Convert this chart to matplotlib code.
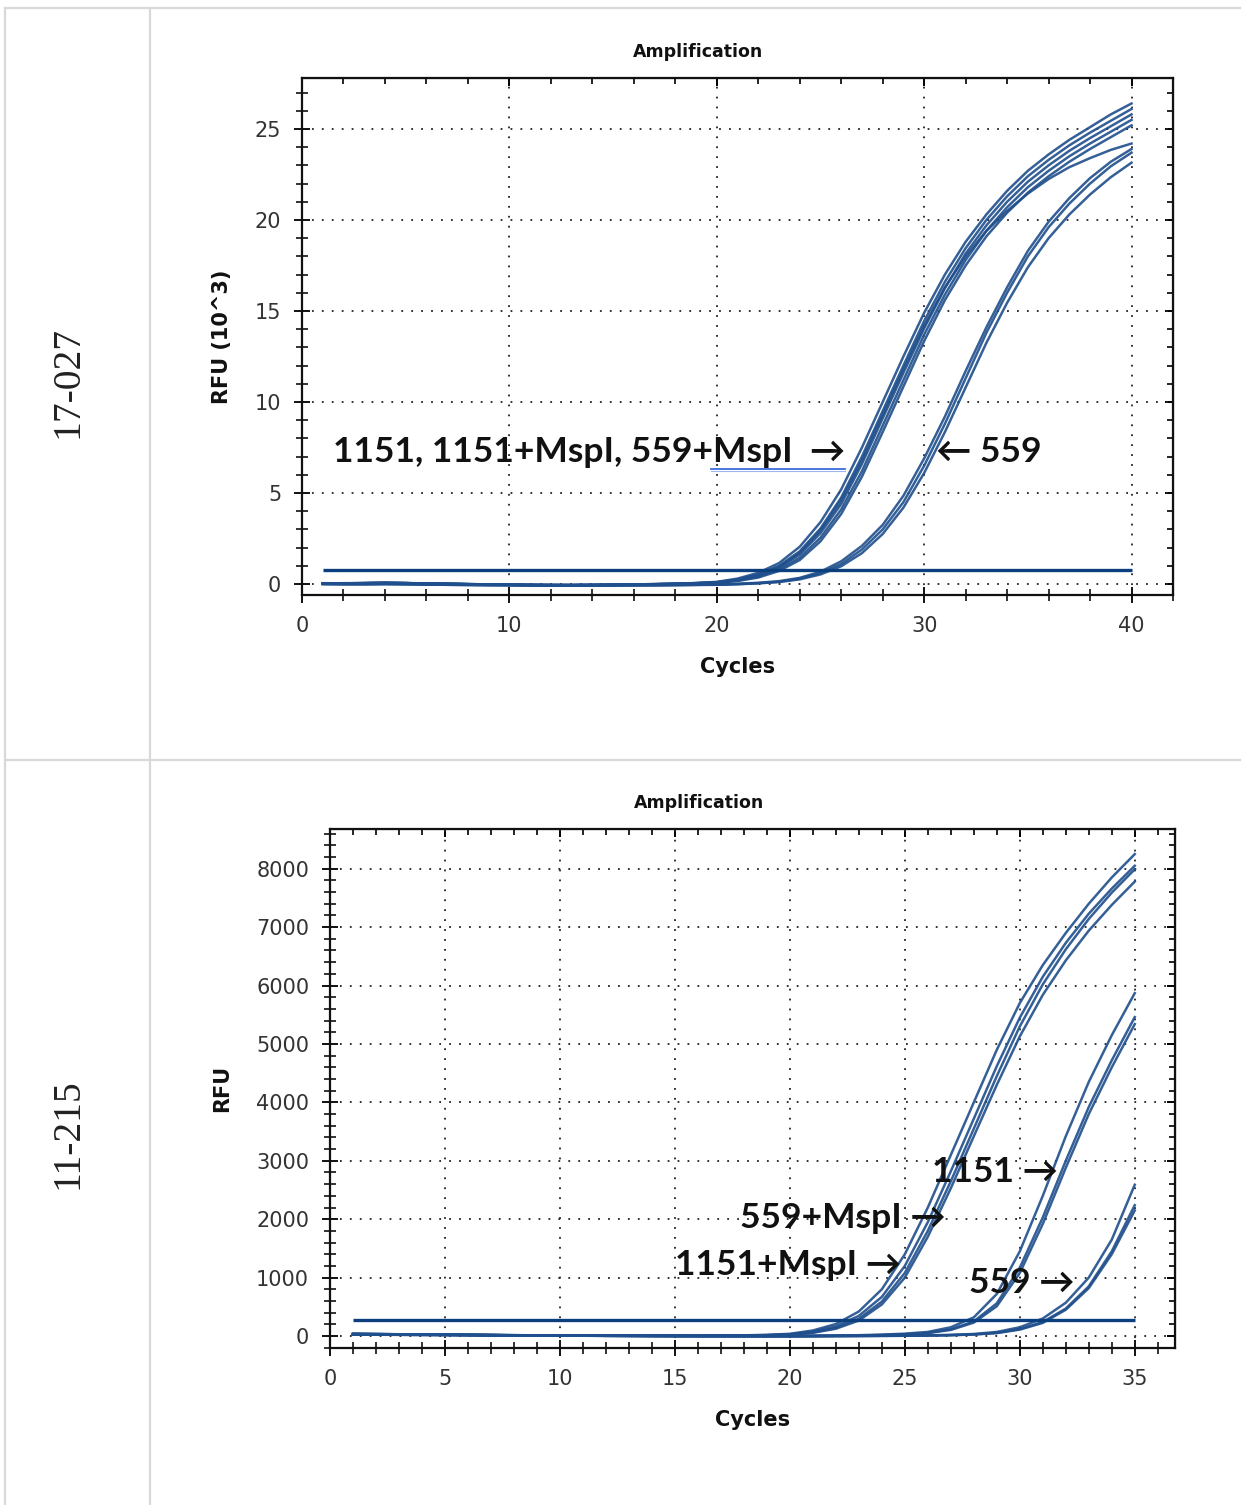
import matplotlib
matplotlib.use("Agg")
import matplotlib.pyplot as plt
from matplotlib.lines import Line2D
from matplotlib.ticker import MultipleLocator

# ---------------- data: sample 17-027 (RFU x 10^3) ----------------
cycles_a = list(range(1, 41))
threshold_a = 0.8
# 1151, 1151+MspI, 559+MspI (early group)
a_early_1 = [0.05,0.04,0.06,0.08,0.05,0.03,0.02,0.00,-0.02,-0.03,-0.04,-0.05,-0.05,-0.04,-0.03,-0.02,0.00,0.02,0.06,0.12,0.30,0.62,1.15,2.05,3.40,5.20,7.50,10.00,12.50,14.90,17.00,18.80,20.30,21.60,22.70,23.60,24.40,25.10,25.80,26.40]
a_early_2 = [0.04,0.05,0.05,0.07,0.06,0.03,0.01,-0.01,-0.02,-0.04,-0.05,-0.05,-0.06,-0.05,-0.03,-0.02,0.00,0.02,0.05,0.10,0.25,0.52,1.00,1.80,3.05,4.75,7.00,9.50,12.00,14.45,16.60,18.45,20.00,21.30,22.40,23.30,24.10,24.80,25.45,26.10]
a_early_3 = [0.03,0.04,0.05,0.06,0.05,0.04,0.02,0.00,-0.02,-0.03,-0.04,-0.06,-0.05,-0.05,-0.04,-0.02,-0.01,0.01,0.04,0.09,0.22,0.46,0.90,1.62,2.80,4.40,6.60,9.10,11.60,14.05,16.25,18.15,19.70,21.00,22.10,23.00,23.80,24.50,25.15,25.80]
a_early_4 = [0.04,0.03,0.05,0.06,0.05,0.03,0.01,-0.01,-0.03,-0.04,-0.05,-0.05,-0.06,-0.05,-0.04,-0.03,-0.01,0.01,0.03,0.08,0.19,0.40,0.80,1.45,2.55,4.10,6.20,8.70,11.20,13.70,15.90,17.80,19.40,20.70,21.80,22.70,23.50,24.20,24.85,25.50]
a_early_5 = [0.03,0.04,0.04,0.05,0.05,0.03,0.01,-0.01,-0.02,-0.04,-0.05,-0.06,-0.06,-0.05,-0.04,-0.03,-0.01,0.00,0.03,0.07,0.17,0.36,0.72,1.32,2.35,3.85,5.90,8.35,10.85,13.35,15.60,17.50,19.10,20.40,21.50,22.40,23.20,23.90,24.55,25.20]
a_early_6 = [0.04,0.04,0.05,0.06,0.05,0.03,0.02,0.00,-0.02,-0.03,-0.05,-0.05,-0.05,-0.05,-0.04,-0.02,-0.01,0.01,0.05,0.10,0.24,0.50,0.95,1.72,2.95,4.60,6.80,9.30,11.80,14.20,16.30,18.00,19.40,20.50,21.45,22.25,22.90,23.40,23.85,24.20]
# 559 (late group)
a_late_1 = [0.00,-0.01,0.00,0.01,0.00,-0.02,-0.03,-0.04,-0.05,-0.06,-0.07,-0.07,-0.08,-0.08,-0.07,-0.07,-0.06,-0.05,-0.04,-0.02,0.02,0.07,0.16,0.34,0.68,1.25,2.10,3.25,4.85,6.90,9.20,11.70,14.10,16.30,18.30,19.90,21.20,22.30,23.20,23.90]
a_late_2 = [0.01,0.00,-0.01,0.00,-0.01,-0.02,-0.04,-0.05,-0.06,-0.06,-0.07,-0.08,-0.08,-0.08,-0.08,-0.07,-0.06,-0.05,-0.04,-0.03,0.00,0.05,0.13,0.30,0.60,1.10,1.90,3.00,4.50,6.50,8.80,11.30,13.80,16.00,18.00,19.60,20.90,22.00,22.95,23.70]
a_late_3 = [0.00,-0.01,-0.01,0.00,-0.01,-0.03,-0.04,-0.05,-0.06,-0.07,-0.07,-0.08,-0.09,-0.08,-0.08,-0.07,-0.07,-0.06,-0.05,-0.04,-0.01,0.04,0.11,0.26,0.53,0.98,1.70,2.75,4.20,6.10,8.35,10.80,13.25,15.45,17.40,19.00,20.30,21.40,22.35,23.15]
series_a = [a_early_1, a_early_2, a_early_3, a_early_4, a_early_5, a_early_6,
            a_late_1, a_late_2, a_late_3]

# ---------------- data: sample 11-215 (RFU) ----------------
cycles_b = list(range(1, 36))
threshold_b = 270
# 559+MspI, 1151+MspI
b_mspi_1 = [40,35,30,28,25,20,18,15,12,10,8,6,5,4,4,5,7,12,20,38,95,205,420,800,1400,2200,3100,4000,4900,5700,6350,6900,7400,7850,8250]
b_mspi_2 = [38,34,30,27,24,21,17,14,12,9,7,6,5,4,3,4,6,10,16,30,75,165,345,670,1200,1950,2820,3720,4620,5450,6150,6730,7230,7660,8050]
b_mspi_3 = [36,33,29,26,23,20,17,14,11,9,7,6,4,3,3,3,5,8,14,25,62,140,295,590,1080,1800,2650,3550,4450,5300,6020,6620,7140,7590,7990]
b_mspi_4 = [35,32,28,25,22,19,16,13,11,9,7,5,4,3,3,3,4,7,12,22,55,125,265,540,1000,1700,2530,3420,4300,5130,5840,6430,6940,7380,7780]
# 1151
b_1151_1 = [30,28,26,24,22,19,16,13,10,8,6,4,3,2,1,0,-1,-1,0,2,4,8,14,24,40,70,150,320,720,1450,2400,3420,4350,5150,5870]
b_1151_2 = [29,27,25,23,21,18,15,12,10,7,5,3,2,1,0,-1,-2,-2,-1,0,2,5,10,17,30,55,115,250,560,1170,2030,3000,3920,4720,5460]
b_1151_3 = [28,26,24,22,20,18,15,12,9,7,5,3,2,1,0,-1,-2,-2,-2,-1,1,4,9,15,27,50,105,230,510,1080,1920,2880,3800,4600,5340]
# 559
b_559_1 = [25,24,22,20,18,16,14,12,10,8,6,4,3,2,1,0,-1,-2,-2,-2,-1,0,2,5,8,12,20,35,70,150,300,570,1000,1650,2590]
b_559_2 = [24,23,21,19,17,15,13,11,9,7,5,4,3,2,1,0,-1,-2,-3,-3,-2,-1,1,3,5,9,15,28,55,120,240,470,850,1450,2240]
b_559_3 = [23,22,20,18,16,15,13,11,9,7,5,4,2,1,0,-1,-2,-3,-3,-3,-2,-1,0,2,4,8,14,26,50,110,225,450,820,1400,2150]
series_b = [b_mspi_1, b_mspi_2, b_mspi_3, b_mspi_4,
            b_1151_1, b_1151_2, b_1151_3, b_559_1, b_559_2, b_559_3]

row_labels = ["17-027", "11-215"]

# ---------------- figure ----------------
W, H = 1241, 1505
fig = plt.figure(figsize=(W / 100, H / 100), dpi=100)

def fx(x):
    return x / W

def fy(y):
    return 1 - y / H

# table grid lines
tbl_kw = dict(color="#d9d9d9", lw=1.6, transform=fig.transFigure)
fig.add_artist(Line2D([fx(5), fx(1241)], [fy(8), fy(8)], **tbl_kw))
fig.add_artist(Line2D([fx(5), fx(1241)], [fy(760), fy(760)], **tbl_kw))
fig.add_artist(Line2D([fx(5), fx(5)], [fy(8), fy(1505)], **tbl_kw))
fig.add_artist(Line2D([fx(150), fx(150)], [fy(8), fy(1505)], **tbl_kw))

fig.text(fx(68), fy(382), row_labels[0], rotation=90, ha="center", va="center",
         family="Liberation Serif", fontsize=28.5, color="#222222")
fig.text(fx(68), fy(1134), row_labels[1], rotation=90, ha="center", va="center",
         family="Liberation Serif", fontsize=28.5, color="#222222")

CURVE = "#1f4f8c"
THR = "#0c3f7e"
ANN_FONT = ["Lato", "DejaVu Sans"]


def style_axes(ax, xmaj, xmin, ymaj, ymin):
    for s in ax.spines.values():
        s.set_linewidth(1.6)
        s.set_color("#111111")
    ax.xaxis.set_major_locator(MultipleLocator(xmaj))
    ax.xaxis.set_minor_locator(MultipleLocator(xmin))
    ax.yaxis.set_major_locator(MultipleLocator(ymaj))
    ax.yaxis.set_minor_locator(MultipleLocator(ymin))
    ax.tick_params(which="major", direction="inout", length=12, width=1.4,
                   labelsize=15, labelcolor="#333333", color="#111111", pad=9)
    ax.tick_params(which="minor", direction="inout", length=8, width=1.2,
                   color="#111111")
    ax.grid(True, which="major", color="#222222", linestyle=(0, (1, 4.5)), lw=1.3)
    ax.set_axisbelow(True)
    # top / right ticks pointing inward
    sx = ax.secondary_xaxis("top")
    sx.xaxis.set_major_locator(MultipleLocator(xmaj))
    sx.xaxis.set_minor_locator(MultipleLocator(xmin))
    sx.tick_params(which="major", direction="in", length=6, width=1.4, labeltop=False)
    sx.tick_params(which="minor", direction="in", length=4, width=1.2)
    sy = ax.secondary_yaxis("right")
    sy.yaxis.set_major_locator(MultipleLocator(ymaj))
    sy.yaxis.set_minor_locator(MultipleLocator(ymin))
    sy.tick_params(which="major", direction="in", length=6, width=1.4, labelright=False)
    sy.tick_params(which="minor", direction="in", length=4, width=1.2)


def add_labels(ax, title_x, ylabel, ylabel_x, xlabel_y):
    ax.text(title_x, 1.0 + 26 / 517, "Amplification", transform=ax.transAxes,
            ha="center", va="center", fontsize=12.5, fontweight="bold", color="#111111")
    ax.set_xlabel("Cycles", fontsize=15, fontweight="bold", color="#111111")
    ax.xaxis.set_label_coords(0.5, xlabel_y)
    ax.xaxis.label.set_va("center")
    ax.set_ylabel(ylabel, fontsize=15, fontweight="bold", color="#111111")
    ax.yaxis.set_label_coords(ylabel_x, 0.5)
    ax.yaxis.label.set_va("center")


# ---------------- chart 1 ----------------
ax1 = fig.add_axes([fx(302), fy(595), fx(1173) - fx(302), fy(78) - fy(595)])
for s in series_a:
    ax1.plot(cycles_a, s, color=CURVE, lw=1.8, alpha=0.9, solid_joinstyle="round")
ax1.hlines(threshold_a, cycles_a[0], cycles_a[-1], color=THR, lw=2.4)
ax1.set_xlim(0, 42)
ax1.set_ylim(-0.6, 27.8)
style_axes(ax1, 10, 2, 5, 1)
add_labels(ax1, (698 - 302) / 871, "RFU (10^3)", (222 - 302) / 871, (595 - 667) / 517)

ax1.text(1.5, 7.25, "1151, 1151+MspI, 559+MspI  \u2192", family=ANN_FONT,
         fontsize=25.5, fontweight="bold", ha="left", va="center", color="#111111")
ax1.plot([19.7, 26.2], [6.32, 6.32], color="#3a6be0", lw=1.3)
ax1.plot([19.7, 26.2], [6.2, 6.2], color="#9db8ef", lw=0.8)
ax1.text(30.55, 7.25, "\u2190 559", family=ANN_FONT, fontsize=25.5,
         fontweight="bold", ha="left", va="center", color="#111111")

# ---------------- chart 2 ----------------
ax2 = fig.add_axes([fx(330), fy(1348), fx(1175) - fx(330), fy(829) - fy(1348)])
for s in series_b:
    ax2.plot(cycles_b, s, color=CURVE, lw=1.8, alpha=0.9, solid_joinstyle="round")
ax2.hlines(threshold_b, cycles_b[0], cycles_b[-1], color=THR, lw=2.4)
ax2.set_xlim(0, 36.75)
ax2.set_ylim(-205, 8680)
style_axes(ax2, 5, 1, 1000, 200)
add_labels(ax2, (699 - 330) / 845, "RFU", (222 - 330) / 845, (1348 - 1420) / 519)

ann_kw = dict(family=ANN_FONT, fontsize=25.5, fontweight="bold", ha="left",
              va="center", color="#111111")
ax2.text(26.2, 2810, "1151 \u2192", **ann_kw)
ax2.text(17.85, 2020, "559+MspI \u2192", **ann_kw)
ax2.text(15.0, 1215, "1151+MspI \u2192", **ann_kw)
ax2.text(27.8, 905, "559 \u2192", **ann_kw)

fig.savefig("out.png", dpi=100, facecolor="white")
